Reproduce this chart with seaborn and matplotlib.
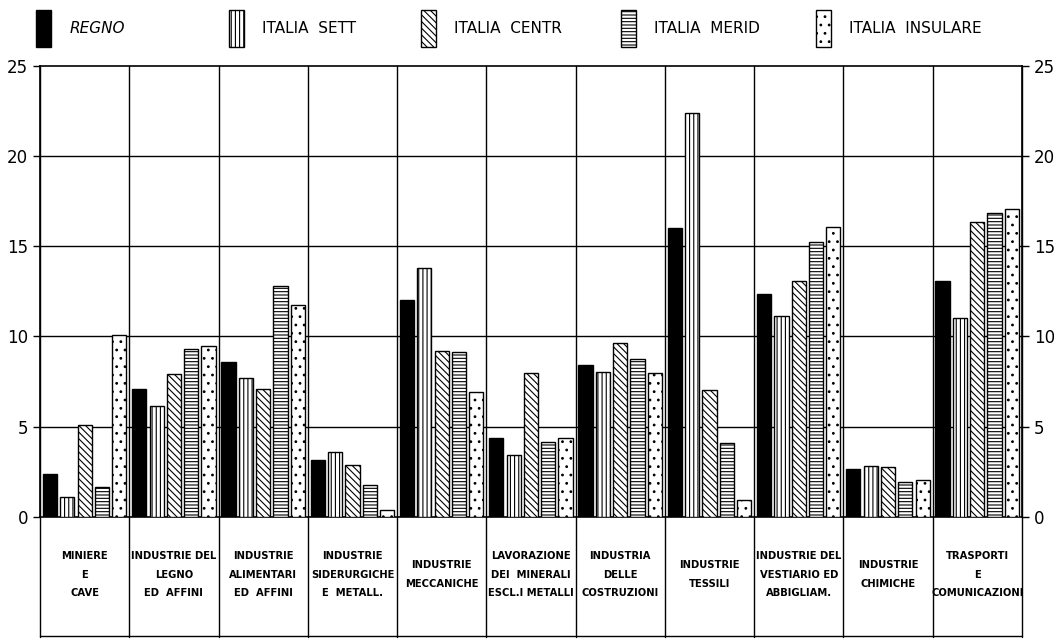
import numpy as np
import matplotlib
matplotlib.use("Agg")
import matplotlib.pyplot as plt
from matplotlib.patches import Patch
import seaborn as sns
import pandas as pd

settori = ["Miniere e cave", "Legno", "Alimentari", "Siderurgiche", "Meccaniche",
           "Lavorazione minerali", "Costruzioni", "Tessili", "Vestiario", "Chimiche",
           "Trasporti"]
etichette = ["MINIERE\nE\nCAVE", "INDUSTRIE DEL\nLEGNO\nED  AFFINI",
             "INDUSTRIE\nALIMENTARI\nED  AFFINI", "INDUSTRIE\nSIDERURGICHE\nE  METALL.",
             "INDUSTRIE\nMECCANICHE", "LAVORAZIONE\nDEI  MINERALI\nESCL.I METALLI",
             "INDUSTRIA\nDELLE\nCOSTRUZIONI", "INDUSTRIE\nTESSILI",
             "INDUSTRIE DEL\nVESTIARIO ED\nABBIGLIAM.", "INDUSTRIE\nCHIMICHE",
             "TRASPORTI\nE\nCOMUNICAZIONI"]
zone = ["REGNO", "ITALIA  SETT", "ITALIA  CENTR", "ITALIA  MERID", "ITALIA  INSULARE"]

regno    = [2.4, 7.1, 8.6, 3.15, 12.0, 4.4, 8.4, 16.0, 12.35, 2.65, 13.05]
sett     = [1.1, 6.15, 7.7, 3.6, 13.8, 3.45, 8.05, 22.4, 11.15, 2.8, 11.0]
centr    = [5.1, 7.9, 7.1, 2.9, 9.2, 7.95, 9.65, 7.05, 13.1, 2.75, 16.35]
merid    = [1.65, 9.3, 12.8, 1.75, 9.15, 4.15, 8.75, 4.1, 15.25, 1.95, 16.85]
insulare = [10.1, 9.5, 11.75, 0.4, 6.9, 4.4, 8.0, 0.95, 16.05, 2.05, 17.05]

serie = [regno, sett, centr, merid, insulare]
tratteggi = [None, "||||", "\\\\\\\\\\", "-----", ".."]
colori = ["black", "white", "white", "white", "white"]

df = pd.DataFrame({
    "settore": [s for s in settori for _ in zone],
    "zona": [z for _ in settori for z in zone],
    "valore": [serie[j][i] for i in range(len(settori)) for j in range(len(zone))],
})

sns.set_style("white")
plt.rcParams["font.family"] = ["DejaVu Sans"]
plt.rcParams["hatch.linewidth"] = 0.8
plt.rcParams["text.color"] = "black"

fig = plt.figure(figsize=(10.54, 6.39), dpi=100)
ax = fig.add_axes([0.038, 0.191, 0.9315, 0.706])

sns.barplot(data=df, x="settore", y="valore", hue="zona", order=settori, hue_order=zone,
            palette=colori, edgecolor="black", linewidth=1.0, width=0.97, gap=0.18,
            saturation=1, legend=False, ax=ax, zorder=3)
for cont, h, c in zip(ax.containers, tratteggi, colori):
    for bar in cont:
        bar.set_facecolor(c)
        bar.set_edgecolor("black")
        if h:
            bar.set_hatch(h)

ax.set_xlim(-0.5, len(settori) - 0.5)
ax.set_ylim(0, 25)
ax.set_yticks([0, 5, 10, 15, 20, 25])
ax.set_xticks([])
ax.set_xlabel("")
ax.set_ylabel("")
for v in [5, 10, 15, 20]:
    ax.axhline(v, color="black", linewidth=1.0, zorder=1)
for b in np.arange(-0.5, len(settori)):
    ax.axvline(b, ymin=-0.265, ymax=1, color="black", linewidth=1.0,
               clip_on=False, zorder=1)
ax.plot([-0.5, len(settori) - 0.5], [-6.6, -6.6], color="black", linewidth=1.0,
        clip_on=False)
for sp in ax.spines.values():
    sp.set_color("black")
    sp.set_linewidth(1.2)

ax.tick_params(axis="y", left=True, right=True, labelleft=True, labelright=True,
               labelsize=12, length=5, width=1, direction="out", color="black",
               labelcolor="black")

for i, lab in enumerate(etichette):
    ax.text(i, -3.2, lab, ha="center", va="center", fontsize=7.2, fontweight="bold",
            color="black", linespacing=2.1,
            family=["Liberation Sans Narrow", "DejaVu Sans"])

# legenda: una voce per volta, come nell'originale
pos_legenda = [0.034, 0.217, 0.399, 0.589, 0.774]
for k, (z, c, h) in enumerate(zip(zone, colori, tratteggi)):
    leg = fig.legend([Patch(facecolor=c, edgecolor="black", hatch=h, linewidth=1)], [z],
                     loc="upper left", bbox_to_anchor=(pos_legenda[k], 0.984),
                     frameon=False, fontsize=11, handlelength=1.0, handleheight=3.3,
                     handletextpad=1.2, borderaxespad=0, borderpad=0)
    leg.get_texts()[0].set_color("black")
    if k == 0:
        leg.get_texts()[0].set_fontstyle("italic")

fig.savefig("out.png", dpi=100)
